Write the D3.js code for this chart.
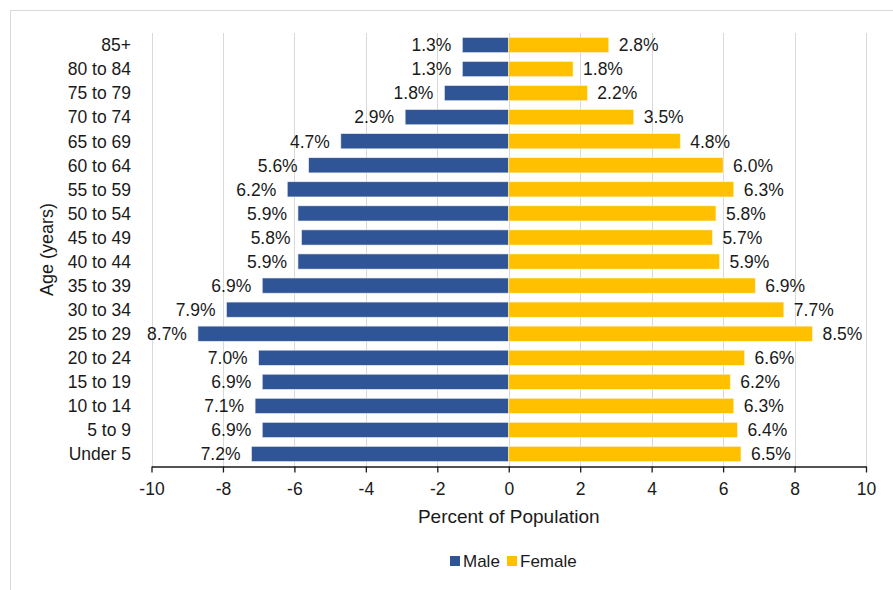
<!DOCTYPE html>
<html>
<head>
<meta charset="utf-8">
<script src="https://cdn.jsdelivr.net/npm/d3@7"></script>
<style>
  html, body { margin: 0; padding: 0; background: #fff; }
  svg { display: block; }
  text { font-family: "Liberation Sans", Arial, sans-serif; fill: #1a1a1a; }
</style>
</head>
<body>
<svg id="chart" width="893" height="590"></svg>
<script>
// Age groups, oldest first (top of the pyramid)
const ageGroups = ["85+", "80 to 84", "75 to 79", "70 to 74", "65 to 69", "60 to 64",
  "55 to 59", "50 to 54", "45 to 49", "40 to 44", "35 to 39", "30 to 34",
  "25 to 29", "20 to 24", "15 to 19", "10 to 14", "5 to 9", "Under 5"];
// Share of population (%) by sex
const malePct = [1.3, 1.3, 1.8, 2.9, 4.7, 5.6, 6.2, 5.9, 5.8, 5.9, 6.9, 7.9, 8.7, 7.0, 6.9, 7.1, 6.9, 7.2];
const femalePct = [2.8, 1.8, 2.2, 3.5, 4.8, 6.0, 6.3, 5.8, 5.7, 5.9, 6.9, 7.7, 8.5, 6.6, 6.2, 6.3, 6.4, 6.5];
const xTicks = [-10, -8, -6, -4, -2, 0, 2, 4, 6, 8, 10];
const seriesNames = ["Male", "Female"];
const seriesColors = ["#2F5597", "#FFC000"];

const rows = ageGroups.map((g, i) => ({ group: g, male: malePct[i], female: femalePct[i] }));

const svg = d3.select("#chart");
const W = 893, H = 590;
const FS = 17.5;

// Outer chart frame
svg.append("rect")
  .attr("x", 10.5).attr("y", 10.5)
  .attr("width", W + 20).attr("height", H + 20)
  .attr("fill", "#fff").attr("stroke", "#d9d9d9").attr("stroke-width", 1);

const plot = { left: 151.5, right: 866, top: 33, bottom: 466 };

const x = d3.scaleLinear().domain([-10, 10]).range([plot.left, plot.right]);
const y = d3.scaleBand().domain(ageGroups).range([plot.top, plot.bottom]).paddingInner(0.37).paddingOuter(0.185);

// Vertical gridlines
svg.append("g")
  .selectAll("line")
  .data(xTicks)
  .join("line")
  .attr("x1", d => Math.round(x(d)) + 0.5).attr("x2", d => Math.round(x(d)) + 0.5)
  .attr("y1", plot.top).attr("y2", plot.bottom)
  .attr("stroke", "#d9d9d9").attr("stroke-width", 1);

// Bars
const bars = svg.append("g");
bars.selectAll("rect.male")
  .data(rows)
  .join("rect")
  .attr("class", "male")
  .attr("x", d => x(-d.male))
  .attr("y", d => y(d.group))
  .attr("width", d => x(0) - x(-d.male))
  .attr("height", y.bandwidth())
  .attr("fill", seriesColors[0])
  .attr("stroke", "#e8ecf4").attr("stroke-width", 0.6);

bars.selectAll("rect.female")
  .data(rows)
  .join("rect")
  .attr("class", "female")
  .attr("x", x(0))
  .attr("y", d => y(d.group))
  .attr("width", d => x(d.female) - x(0))
  .attr("height", y.bandwidth())
  .attr("fill", seriesColors[1])
  .attr("stroke", "#fff4d6").attr("stroke-width", 0.6);

// Value labels
const labels = svg.append("g").attr("font-size", FS);
labels.selectAll("text.mlab")
  .data(rows)
  .join("text")
  .attr("x", d => x(-d.male) - 11)
  .attr("y", d => y(d.group) + y.bandwidth() / 2)
  .attr("dy", "0.36em")
  .attr("text-anchor", "end")
  .text(d => d.male.toFixed(1) + "%");
labels.selectAll("text.flab")
  .data(rows)
  .join("text")
  .attr("x", d => x(d.female) + 10)
  .attr("y", d => y(d.group) + y.bandwidth() / 2)
  .attr("dy", "0.36em")
  .attr("text-anchor", "start")
  .text(d => d.female.toFixed(1) + "%");

// Category axis labels
svg.append("g").attr("font-size", FS)
  .selectAll("text")
  .data(ageGroups)
  .join("text")
  .attr("x", 131)
  .attr("y", d => y(d) + y.bandwidth() / 2)
  .attr("dy", "0.36em")
  .attr("text-anchor", "end")
  .text(d => d);

// Horizontal value axis
const xAxis = svg.append("g")
  .attr("transform", `translate(0,${plot.bottom + 0.5})`)
  .call(d3.axisBottom(x).tickValues(xTicks).tickFormat(d => String(d))
    .tickSize(6).tickPadding(0).tickSizeOuter(0));
xAxis.select(".domain").attr("stroke", "#1a1a1a").attr("stroke-width", 1.3);
xAxis.selectAll(".tick line").attr("stroke", "#1a1a1a").attr("stroke-width", 1.3);
xAxis.selectAll(".tick text")
  .attr("y", 28.5).attr("dy", null)
  .attr("font-size", FS)
  .attr("font-family", "Liberation Sans, Arial, sans-serif")
  .attr("fill", "#1a1a1a");

// Axis titles
svg.append("text")
  .attr("x", x(0)).attr("y", 523)
  .attr("text-anchor", "middle")
  .attr("font-size", 19)
  .text("Percent of Population");

svg.append("text")
  .attr("transform", `translate(53,${(plot.top + plot.bottom) / 2}) rotate(-90)`)
  .attr("text-anchor", "middle")
  .attr("font-size", 18)
  .text("Age (years)");

// Legend
const legend = svg.append("g").attr("font-size", 17);
const legendX = [450, 507];
seriesNames.forEach((name, i) => {
  legend.append("rect")
    .attr("x", legendX[i]).attr("y", 556)
    .attr("width", 10).attr("height", 10)
    .attr("fill", seriesColors[i]);
  legend.append("text")
    .attr("x", legendX[i] + 13).attr("y", 567)
    .text(name);
});
</script>
</body>
</html>
